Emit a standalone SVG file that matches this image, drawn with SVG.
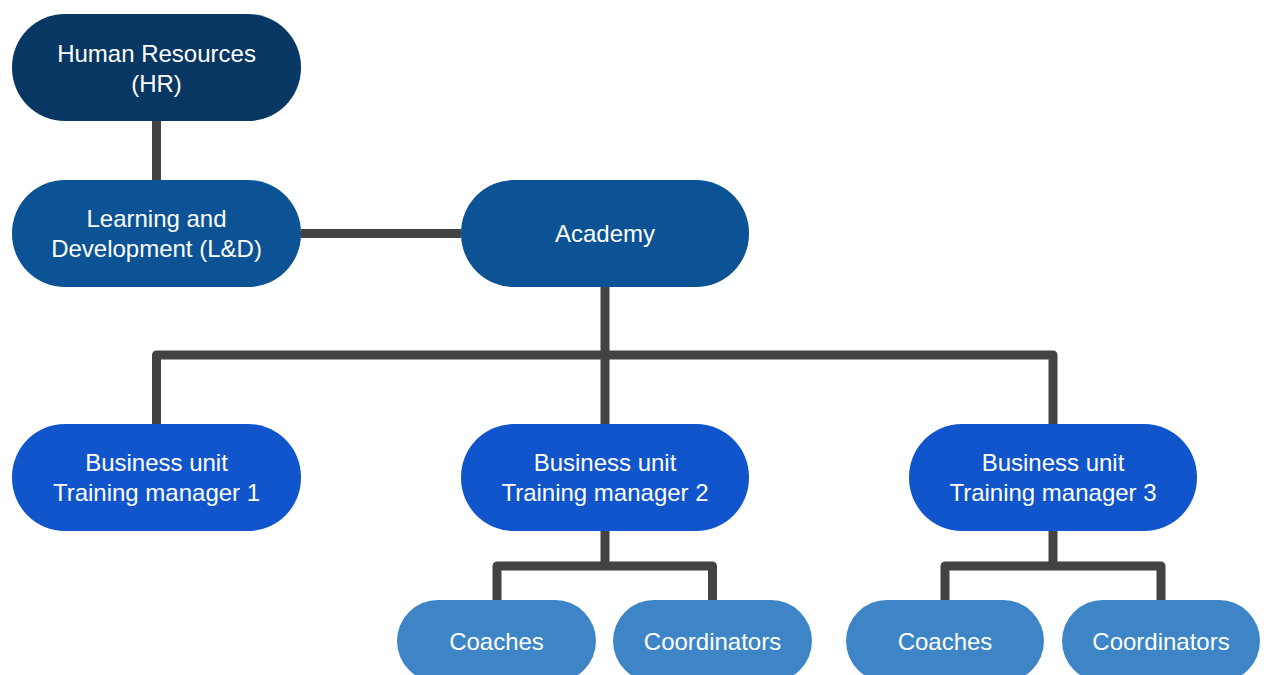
<svg xmlns="http://www.w3.org/2000/svg" width="1264" height="675" viewBox="0 0 1264 675">
  <style>
    .link { fill: none; stroke: #434343; stroke-width: 9; stroke-linejoin: round; }
    .label { fill: #ffffff; font-family: "Liberation Sans", Arial, sans-serif; font-size: 24px; text-anchor: middle; }
    .hr { fill: #083763; }
    .mid { fill: #0b5394; }
    .unit { fill: #1155cc; }
    .leaf { fill: #3d85c6; }
  </style>
  <rect width="1264" height="675" fill="#ffffff"/>

  <!-- connectors -->
  <g id="connectors">
    <path class="link" d="M156.5 121 V180"/>
    <path class="link" d="M301 233.5 H461"/>
    <path class="link" d="M605 287 V424"/>
    <path class="link" d="M156.5 424 V355 H1053 V424"/>
    <path class="link" d="M605 531 V566"/>
    <path class="link" d="M497 600 V566 H712.5 V600"/>
    <path class="link" d="M1053 531 V566"/>
    <path class="link" d="M945 600 V566 H1161 V600"/>
  </g>

  <g id="hr">
    <rect class="hr" x="12" y="14" width="289" height="107" rx="53" ry="53"/>
    <text class="label" x="156.5" y="62">Human Resources</text>
    <text class="label" x="156.5" y="92">(HR)</text>
  </g>

  <g id="learning-development">
    <rect class="mid" x="12" y="180" width="289" height="107" rx="53" ry="53"/>
    <text class="label" x="156.5" y="227">Learning and</text>
    <text class="label" x="156.5" y="257">Development (L&amp;D)</text>
  </g>

  <g id="academy">
    <rect class="mid" x="461" y="180" width="288" height="107" rx="53" ry="53"/>
    <text class="label" x="605" y="242">Academy</text>
  </g>

  <g id="unit-1">
    <rect class="unit" x="12" y="424" width="289" height="107" rx="53" ry="53"/>
    <text class="label" x="156.5" y="471">Business unit</text>
    <text class="label" x="156.5" y="501">Training manager 1</text>
  </g>

  <g id="unit-2">
    <rect class="unit" x="461" y="424" width="288" height="107" rx="53" ry="53"/>
    <text class="label" x="605" y="471">Business unit</text>
    <text class="label" x="605" y="501">Training manager 2</text>
  </g>

  <g id="unit-3">
    <rect class="unit" x="909" y="424" width="288" height="107" rx="53" ry="53"/>
    <text class="label" x="1053" y="471">Business unit</text>
    <text class="label" x="1053" y="501">Training manager 3</text>
  </g>

  <g id="coaches-2">
    <rect class="leaf" x="397" y="600" width="199" height="82" rx="41" ry="41"/>
    <text class="label" x="496.5" y="650">Coaches</text>
  </g>

  <g id="coordinators-2">
    <rect class="leaf" x="613" y="600" width="199" height="82" rx="41" ry="41"/>
    <text class="label" x="712.5" y="650">Coordinators</text>
  </g>

  <g id="coaches-3">
    <rect class="leaf" x="846" y="600" width="198" height="82" rx="41" ry="41"/>
    <text class="label" x="945" y="650">Coaches</text>
  </g>

  <g id="coordinators-3">
    <rect class="leaf" x="1062" y="600" width="198" height="82" rx="41" ry="41"/>
    <text class="label" x="1161" y="650">Coordinators</text>
  </g>
</svg>
